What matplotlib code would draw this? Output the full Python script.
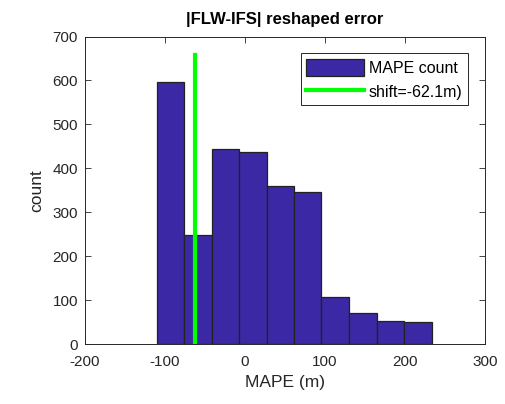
import matplotlib

matplotlib.use("Agg")
import matplotlib.pyplot as plt
from matplotlib.patches import Patch
from matplotlib.lines import Line2D

# histogram bins (MAPE, m) and counts
bin_edges = [-110.0, -75.7, -41.5, -7.2, 27.5, 61.3, 95.6, 129.9, 164.6, 198.9, 233.2]
counts = [596, 249, 444, 438, 360, 345, 106, 70, 52, 49]
shift = -62.1
shift_top = 657

x_ticks = [-200, -100, 0, 100, 200, 300]
y_ticks = [0, 100, 200, 300, 400, 500, 600, 700]

plt.rcParams["font.family"] = ["Liberation Sans", "DejaVu Sans"]
plt.rcParams["axes.unicode_minus"] = False

W, H = 506, 404
fig = plt.figure(figsize=(W / 100, H / 100), dpi=100)
ax = fig.add_axes([85 / W, 1 - 344 / H, (485 - 85) / W, (344 - 36.5) / H])

bar_color = "#3B28A4"
lefts = bin_edges[:-1]
widths = [b - a for a, b in zip(bin_edges[:-1], bin_edges[1:])]
ax.bar(lefts, counts, width=widths, align="edge", color=bar_color,
       edgecolor="#222222", linewidth=0.9, zorder=2)
ax.plot([shift, shift], [0, shift_top], color="#00FF00", linewidth=3.0, zorder=3)

ax.set_xlim(-200, 300)
ax.set_ylim(0, 700)
ax.set_xticks(x_ticks)
ax.set_yticks(y_ticks)
ax.tick_params(direction="in", top=True, right=True, labelsize=11, length=4,
               width=0.6, colors="#262626")
ax.tick_params(axis="x", pad=8)
ax.tick_params(axis="y", pad=5)
for s in ax.spines.values():
    s.set_color("#262626")
    s.set_linewidth(0.7)

ax.set_xlabel("MAPE (m)", fontsize=12.5, color="#262626", labelpad=4)
ax.set_ylabel("count", fontsize=12.5, color="#262626", labelpad=6)
ax.set_title("|FLW-IFS| reshaped error", fontsize=12, fontweight="bold", pad=9)

handles = [Patch(facecolor=bar_color, edgecolor="#222222", linewidth=0.9),
           Line2D([0], [0], color="#00FF00", linewidth=3.0)]
leg = ax.legend(handles, ["MAPE count", "shift=-62.1m)"], loc="upper right",
                bbox_to_anchor=(0.9575, 0.946), fontsize=11.5, handlelength=3.6,
                handleheight=1.25, handletextpad=0.3, borderpad=0.35,
                labelspacing=0.45, borderaxespad=0, fancybox=False, framealpha=1)
leg.get_frame().set_edgecolor("#262626")
leg.get_frame().set_linewidth(0.7)

fig.savefig("out.png", dpi=100)
